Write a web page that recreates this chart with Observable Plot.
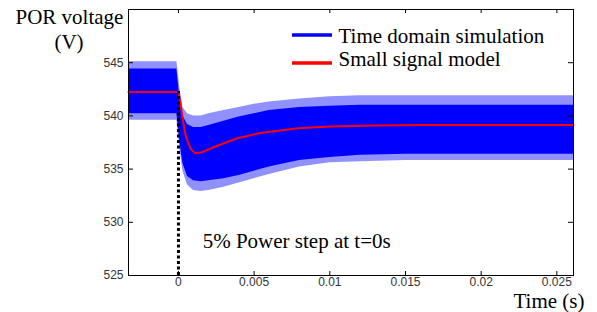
<!DOCTYPE html>
<html>
<head>
<meta charset="utf-8">
<script src="https://cdn.jsdelivr.net/npm/d3@7"></script>
<script src="https://cdn.jsdelivr.net/npm/@observablehq/plot@0.6"></script>
<style>
  html, body { margin: 0; padding: 0; background: #fff; }
  #chart { width: 597px; height: 312px; }
</style>
</head>
<body>
<div id="chart"></div>
<script>
// ---- Data ----
// Envelope of the time-domain simulation (high-frequency ripple band)
const simTime       = [-0.0033, -0.0001, 0.0001, 0.0003, 0.0006, 0.001, 0.0015, 0.002, 0.003, 0.004, 0.005, 0.006, 0.008, 0.01, 0.012, 0.015, 0.02, 0.0261];
const simUpperPeak  = [545.1, 545.1, 542.5, 540.8, 540.2, 540.0, 540.0, 540.2, 540.5, 540.8, 541.1, 541.3, 541.6, 541.8, 541.9, 541.9, 541.9, 541.9];
const simUpperBody  = [544.4, 544.4, 541.5, 540.0, 539.2, 538.9, 538.9, 539.1, 539.5, 539.9, 540.2, 540.5, 540.8, 540.9, 541.0, 541.0, 541.0, 541.0];
const simLowerBody  = [540.2, 540.2, 537.5, 535.5, 534.3, 533.9, 533.8, 533.9, 534.1, 534.4, 534.8, 535.2, 535.8, 536.1, 536.3, 536.4, 536.4, 536.4];
const simLowerPeak  = [539.6, 539.6, 536.8, 534.8, 533.5, 533.0, 532.9, 533.0, 533.3, 533.7, 534.1, 534.5, 535.2, 535.6, 535.7, 535.8, 535.8, 535.8];

// Small signal model
const modelTime = [-0.0033, 0, 0.0001, 0.0003, 0.0005, 0.0008, 0.0011, 0.0015, 0.0024, 0.0039, 0.0054, 0.0079, 0.01, 0.013, 0.016, 0.0261];
const modelVolt = [542.25, 542.25, 541.5, 539.5, 538.0, 536.9, 536.5, 536.55, 537.1, 537.9, 538.4, 538.85, 539.0, 539.1, 539.15, 539.15];

// Step marker
const stepTime = [0];
const stepFrom = [525];
const stepTo   = [542.3];

// Axes
const xTicks = [0, 0.005, 0.01, 0.015, 0.02, 0.025];
const yTicks = [525, 530, 535, 540, 545];
const xDomain = [-0.0033, 0.0261];
const yDomain = [525, 550];

// Texts
const yTitle1 = "POR voltage";
const yTitle2 = "(V)";
const xTitle = "Time (s)";
const seriesNames = ["Time domain simulation", "Small signal model"];
const seriesColors = ["#0000ff", "#ff0000"];
const annotation = "5% Power step at t=0s";
const annotationAt = {t: 0.0016, v: 527.6};

// ---- Build ----
const band = simTime.map((t, i) => ({t, hiP: simUpperPeak[i], hiB: simUpperBody[i], loB: simLowerBody[i], loP: simLowerPeak[i]}));
const model = modelTime.map((t, i) => ({t, v: modelVolt[i]}));
const steps = stepTime.map((t, i) => ({t, a: stepFrom[i], b: stepTo[i]}));

const W = 597, H = 312;
const mL = 128, mR = 24, mT = 9, mB = 37;
const pw = W - mL - mR, ph = H - mT - mB;
const serif = "Liberation Serif, Times New Roman, serif";
const sans = "Liberation Sans, Arial, sans-serif";
const FS = 21;
const legendDy = [33.7, 56.7];

const chart = Plot.plot({
  width: W, height: H,
  marginLeft: mL, marginRight: mR, marginTop: mT, marginBottom: mB,
  style: {background: "#fff", overflow: "visible"},
  x: {domain: xDomain},
  y: {domain: yDomain},
  marks: [
    Plot.areaY(band, {x: "t", y1: "loP", y2: "hiP", fill: "#9090ff", curve: "linear"}),
    Plot.areaY(band, {x: "t", y1: "loB", y2: "hiB", fill: seriesColors[0], curve: "linear"}),
    Plot.line(model, {x: "t", y: "v", stroke: seriesColors[1], strokeWidth: 2}),
    Plot.ruleX(steps, {x: "t", y1: "a", y2: "b", stroke: "#000", strokeWidth: 3, strokeDasharray: "3,2.5"}),
    Plot.frame({stroke: "#000", strokeWidth: 1}),
    Plot.tickY(yTicks, {y: d => d, insetRight: pw - 5, stroke: "#000"}),
    Plot.tickY(yTicks, {y: d => d, insetLeft: pw - 5, stroke: "#000"}),
    Plot.tickX(xTicks, {x: d => d, insetTop: ph - 4, stroke: "#000"}),
    Plot.tickX(xTicks, {x: d => d, insetBottom: ph - 4, stroke: "#000"}),
    Plot.axisY(yTicks, {tickSize: 0, tickPadding: 5, label: null, fontSize: 12, fontFamily: sans, fill: "#333"}),
    Plot.axisX(xTicks, {tickSize: 0, tickPadding: 2, label: null, fontSize: 12, fontFamily: sans, fill: "#333", tickFormat: d => String(d)}),
    Plot.text([yTitle1], {text: d => d, frameAnchor: "top-left", dx: -113, dy: 14, textAnchor: "start", lineAnchor: "bottom", fontSize: FS, fontFamily: serif, fill: "#000"}),
    Plot.text([yTitle2], {text: d => d, frameAnchor: "top-left", dx: -59.5, dy: 39, textAnchor: "middle", lineAnchor: "bottom", fontSize: FS, fontFamily: serif, fill: "#000"}),
    Plot.text([xTitle], {text: d => d, frameAnchor: "bottom-right", dx: 11, dy: 32.5, textAnchor: "end", lineAnchor: "bottom", fontSize: FS, fontFamily: serif, fill: "#000"}),
    ...seriesNames.map((name, i) =>
      Plot.text([name], {text: d => d, frameAnchor: "top-left", dx: 210, dy: legendDy[i], textAnchor: "start", lineAnchor: "bottom", fontSize: FS, fontFamily: serif, fill: "#000"})
    ),
    Plot.text([annotation], {x: () => annotationAt.t, y: () => annotationAt.v, text: d => d, textAnchor: "start", lineAnchor: "bottom", fontSize: FS, fontFamily: serif, fill: "#000"})
  ]
});

document.getElementById("chart").appendChild(chart);

// Legend swatches
const svg = d3.select(chart);
const swatchY = [35, 63];
seriesNames.forEach((name, i) => {
  svg.append("line")
    .attr("x1", 292).attr("x2", 332)
    .attr("y1", swatchY[i]).attr("y2", swatchY[i])
    .attr("stroke", seriesColors[i]).attr("stroke-width", 3.3);
});
</script>
</body>
</html>
